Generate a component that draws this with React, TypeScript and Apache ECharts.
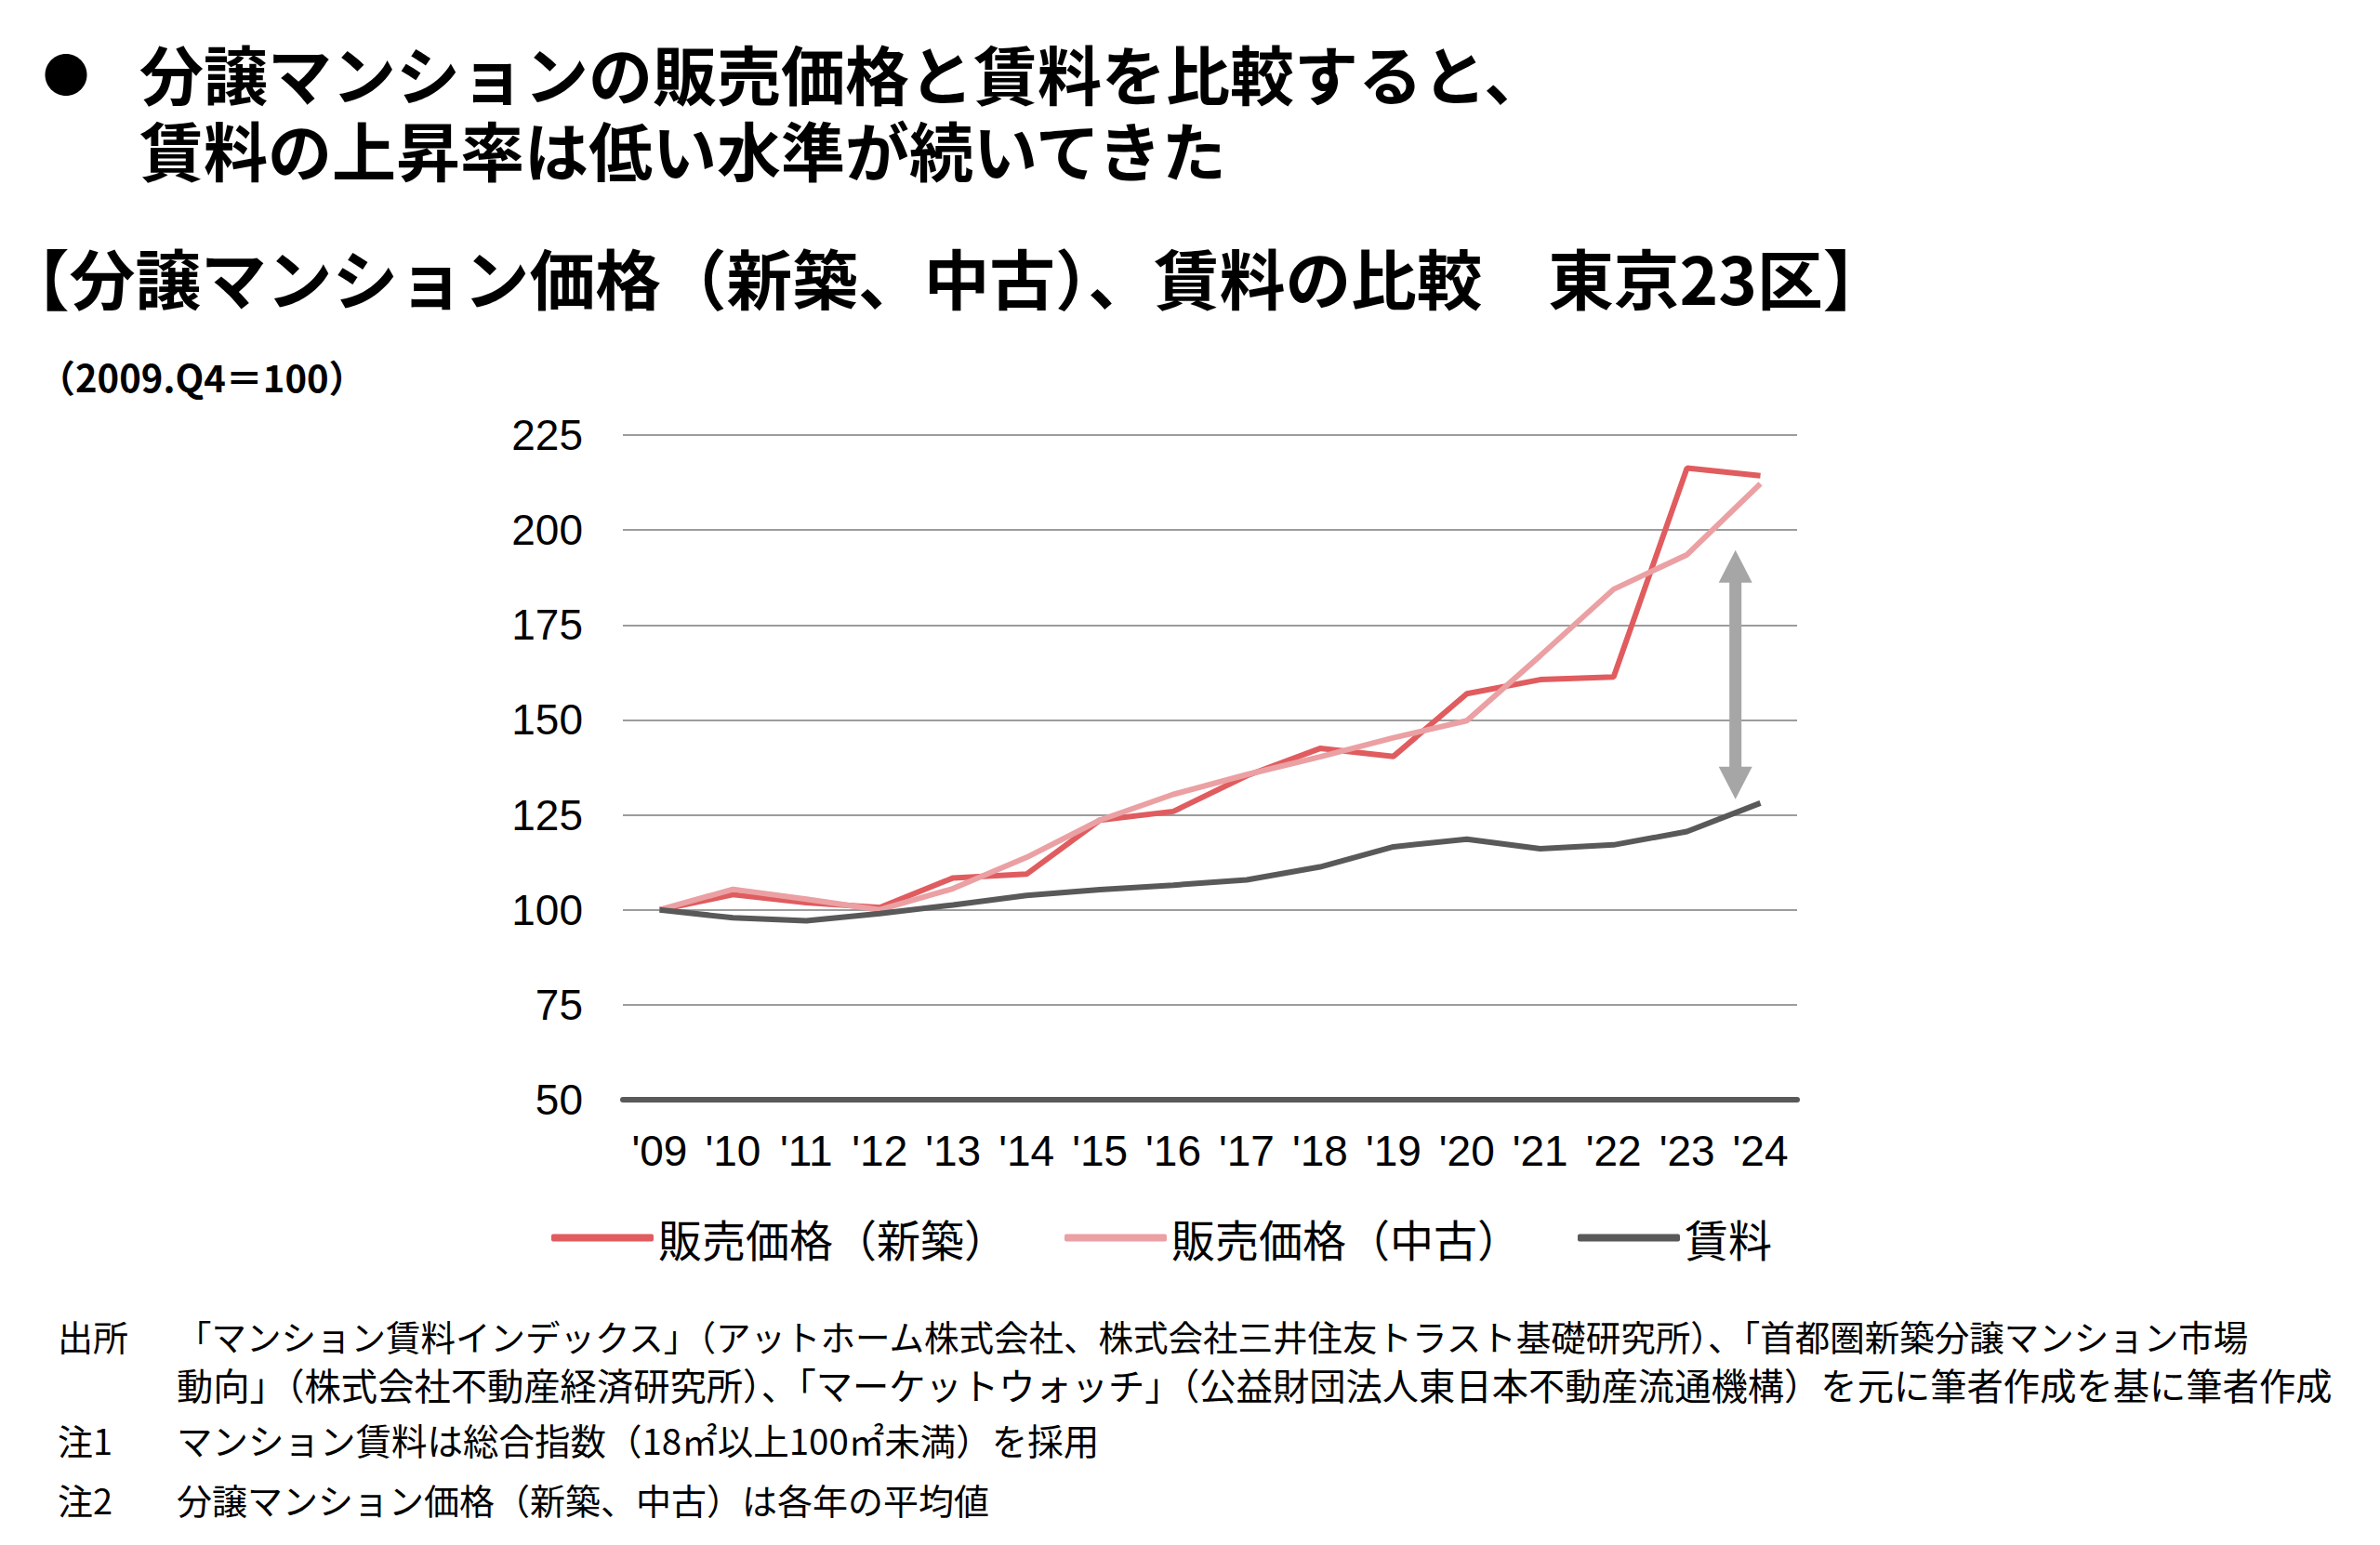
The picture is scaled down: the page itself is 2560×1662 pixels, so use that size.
import React, { useEffect, useRef } from "react";
import * as echarts from "echarts";

const CATEGORIES = ["'09", "'10", "'11", "'12", "'13", "'14", "'15", "'16", "'17", "'18", "'19", "'20", "'21", "'22", "'23", "'24"];
const NEW_PRICE = [100, 104, 101.9, 100.6, 108.4, 109.4, 123.6, 125.9, 135.3, 142.5, 140.4, 156.9, 160.6, 161.3, 216.3, 214.3];
const USED_PRICE = [100, 105.4, 102.8, 100, 105.6, 113.8, 123.6, 130.4, 135.6, 140.3, 145.3, 149.8, 166.9, 184.4, 193.5, 212.2];
const RENT = [100, 97.9, 97.1, 99, 101.3, 103.8, 105.3, 106.5, 107.9, 111.3, 116.6, 118.6, 116.1, 117.1, 120.6, 128.1];
const SERIES_NAMES = ["販売価格（新築）", "販売価格（中古）", "賃料"];
const Y_MIN = 50;
const Y_MAX = 225;
const Y_INTERVAL = 25;
// gap arrow annotation (value range, and position between '23 and '24)
const ARROW_TOP = 194.7;
const ARROW_BOTTOM = 129.1;
const ARROW_X_FROM = 14;
const ARROW_X_TO = 15;
const ARROW_X_FRACTION = 0.66;

const TITLE_LINE1 = "分譲マンションの販売価格と賃料を比較すると、";
const TITLE_LINE2 = "賃料の上昇率は低い水準が続いてきた";
const SUBTITLE = "【分譲マンション価格（新築、中古）、賃料の比較　東京23区】";
const UNIT = "（2009.Q4＝100）";
const NOTES = [
  ["出所", "「マンション賃料インデックス」（アットホーム株式会社、株式会社三井住友トラスト基礎研究所）、「首都圏新築分譲マンション市場"],
  ["", "動向」（株式会社不動産経済研究所）、「マーケットウォッチ」（公益財団法人東日本不動産流通機構）を元に筆者作成を基に筆者作成"],
  ["注1", "マンション賃料は総合指数（18㎡以上100㎡未満）を採用"],
  ["注2", "分譲マンション価格（新築、中古）は各年の平均値"],
];

const JP = "'Noto Sans CJK JP', 'Noto Sans', sans-serif";
const LAT = "'Liberation Sans', Arial, sans-serif";

export default function App() {
  const ref = useRef<HTMLDivElement>(null);
  useEffect(() => {
    if (!ref.current) return;
    const chart = echarts.init(ref.current, undefined, { renderer: "svg" });
    const colors = ["#e05c5f", "#eba0a3", "#595959"];
    const datasets = [NEW_PRICE, USED_PRICE, RENT];
    chart.setOption({
      animation: false,
      backgroundColor: "#ffffff",
      grid: { left: 670, right: 627, top: 468, bottom: 479, containLabel: false },
      xAxis: {
        type: "category",
        data: CATEGORIES,
        boundaryGap: true,
        axisLine: { show: true, lineStyle: { color: "#595959", width: 6 } },
        axisTick: { show: false },
        axisLabel: { color: "#000", fontSize: 46, fontFamily: LAT, margin: 32, interval: 0 },
        splitLine: { show: false },
      },
      yAxis: {
        type: "value",
        min: Y_MIN,
        max: Y_MAX,
        interval: Y_INTERVAL,
        axisLine: { show: false },
        axisTick: { show: false },
        axisLabel: { color: "#000", fontSize: 46, fontFamily: LAT, margin: 43 },
        splitLine: { show: true, lineStyle: { color: "#9c9c9c", width: 2 } },
      },
      legend: {
        data: SERIES_NAMES,
        left: 588,
        top: 1303,
        icon: "roundRect",
        itemWidth: 110,
        itemHeight: 8,
        itemGap: 61,
        textStyle: { fontSize: 47, fontFamily: JP, color: "#000" },
      },
      series: SERIES_NAMES.map((name, i) => ({
        name,
        type: "line",
        data: datasets[i],
        symbol: "none",
        smooth: false,
        lineStyle: { color: colors[i], width: 6 },
        itemStyle: { color: colors[i] },
        z: 2 + i,
      })),
    });

    const px = (x: number, y: number) => chart.convertToPixel({ xAxisIndex: 0, yAxisIndex: 0 }, [x, y]) as number[];
    const a = px(ARROW_X_FROM, ARROW_TOP);
    const b = px(ARROW_X_TO, ARROW_BOTTOM);
    const ax = a[0] + (b[0] - a[0]) * ARROW_X_FRACTION;
    const yTop = a[1];
    const yBot = b[1];
    const headLen = 35;
    const headHalf = 18;
    const shaftHalf = 6.5;
    const arrowPoints = [
      [ax, yTop],
      [ax + headHalf, yTop + headLen],
      [ax + shaftHalf, yTop + headLen],
      [ax + shaftHalf, yBot - headLen],
      [ax + headHalf, yBot - headLen],
      [ax, yBot],
      [ax - headHalf, yBot - headLen],
      [ax - shaftHalf, yBot - headLen],
      [ax - shaftHalf, yTop + headLen],
      [ax - headHalf, yTop + headLen],
    ];

    const text = (t: string, x: number, y: number, size: number, weight: string, family = JP, lineHeight?: number) => ({
      type: "text",
      x,
      y,
      silent: true,
      style: {
        text: t, fontSize: size, fontWeight: weight, fontFamily: family, fill: "#000",
        verticalAlign: "middle", textAlign: "left", ...(lineHeight ? { lineHeight } : {}),
      },
    });

    const noteYs = [1436, 1488, 1548, 1612];
    const noteSizes = [37.5, 39.3, 38.5, 38];
    const graphics: any[] = [
      text("●", 46, 77, 50, "normal"),
      text(TITLE_LINE1 + "\n" + TITLE_LINE2, 150, 119, 69, "bold", JP, 82),
      text(SUBTITLE, 4, 297, 70.7, "bold"),
      text(UNIT, 41, 405, 40, "bold"),
      { type: "polygon", silent: true, z: 10, shape: { points: arrowPoints }, style: { fill: "#a6a6a6" } },
    ];
    NOTES.forEach(([label, body], i) => {
      if (label) graphics.push(text(label, 62, noteYs[i], 38, "normal"));
      graphics.push(text(body, 190, noteYs[i], noteSizes[i], "normal"));
    });
    chart.setOption({ graphic: graphics });

    return () => chart.dispose();
  }, []);
  return <div ref={ref} style={{ position: "fixed", left: 0, top: 0, width: 2560, height: 1662, background: "#fff" }} />;
}
